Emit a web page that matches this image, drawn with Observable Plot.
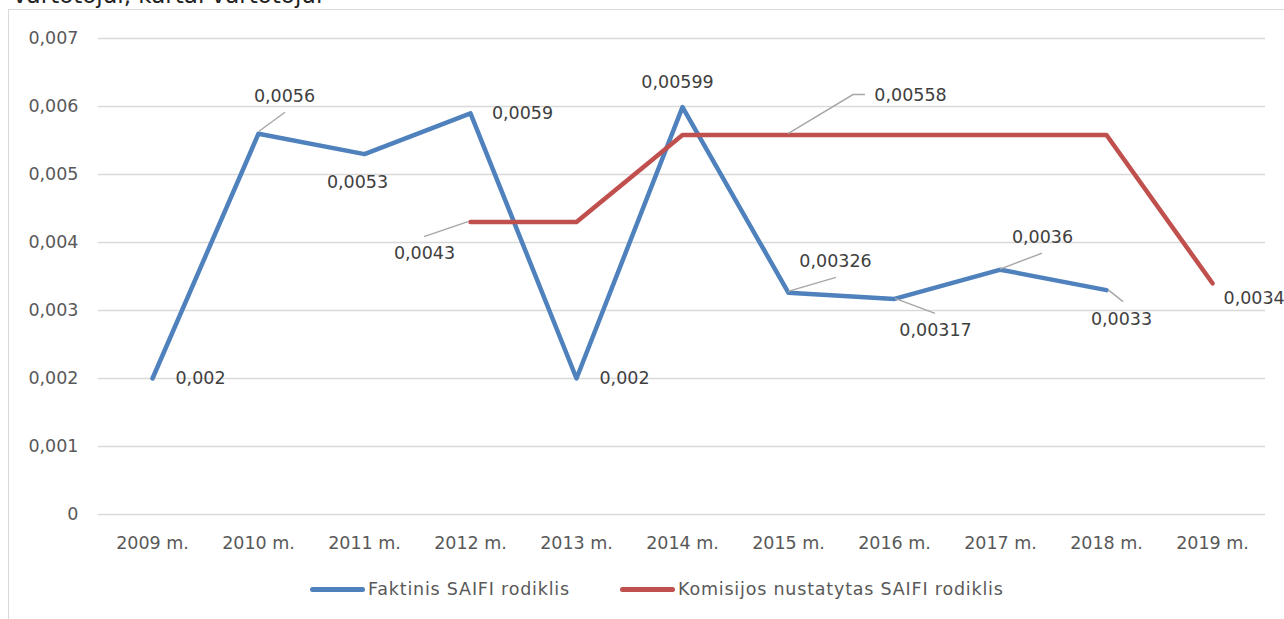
<!DOCTYPE html>
<html><head><meta charset="utf-8">
<script src="https://cdn.jsdelivr.net/npm/d3@7"></script>
<script src="https://cdn.jsdelivr.net/npm/@observablehq/plot@0.6"></script>
<style>
body{margin:0;background:#fff;}
#wrap{position:relative;width:1284px;height:619px;overflow:hidden;font-family:"DejaVu Sans",sans-serif;color:#595959;}
#title{position:absolute;left:13px;top:-16.5px;font-size:23px;line-height:23px;color:#222;white-space:nowrap;}
#frame{position:absolute;left:8px;top:9px;width:1400px;height:700px;border-left:1px solid #d9d9d9;border-top:1px solid #d9d9d9;}
#chart{position:absolute;left:0;top:0;}
.leg{position:absolute;top:578px;height:22px;display:flex;align-items:center;font-size:17.5px;white-space:nowrap;letter-spacing:0.8px;}
.sw{width:55px;height:5px;border-radius:3px;margin-right:3px;}
</style></head>
<body>
<div id="wrap">
  <div id="title">vartotojui, kartai vartotojui</div>
  <div id="frame"></div>
  <div id="chart"></div>
  <div class="leg" style="left:310px"><div class="sw" style="background:#4F81BD"></div><span id="legA"></span></div>
  <div class="leg" style="left:620px"><div class="sw" style="background:#C0504D"></div><span id="legB"></span></div>
</div>
<script>
// ---- data ----
const years = ["2009 m.", "2010 m.", "2011 m.", "2012 m.", "2013 m.", "2014 m.", "2015 m.", "2016 m.", "2017 m.", "2018 m.", "2019 m."];
const faktinis = [0.002, 0.0056, 0.0053, 0.0059, 0.002, 0.00599, 0.00326, 0.00317, 0.0036, 0.0033, null];
const komisijos = [null, null, null, 0.0043, 0.0043, 0.00558, 0.00558, 0.00558, 0.00558, 0.00558, 0.0034];
const seriesNames = ["Faktinis SAIFI rodiklis", "Komisijos nustatytas SAIFI rodiklis"];
const yTicks = [0, 0.001, 0.002, 0.003, 0.004, 0.005, 0.006, 0.007];

document.getElementById("legA").textContent = seriesNames[0];
document.getElementById("legB").textContent = seriesNames[1];

const seriesValues = {F: faktinis, K: komisijos};
const colors = {F: "#4F81BD", K: "#C0504D"};
const rows = s => years.map((y, i) => ({year: y, value: seriesValues[s][i]})).filter(d => d.value != null);

// ---- label layout (pixel offsets, styling only) ----
const labelLayout = [
  {s: "F", i: 0, dx: 48, dy: 0},
  {s: "F", i: 1, dx: 26, dy: -37},
  {s: "F", i: 2, dx: -7, dy: 28},
  {s: "F", i: 3, dx: 52, dy: 0},
  {s: "F", i: 4, dx: 48, dy: 0},
  {s: "F", i: 5, dx: -5, dy: -25},
  {s: "F", i: 6, dx: 47, dy: -31},
  {s: "F", i: 7, dx: 41, dy: 31},
  {s: "F", i: 8, dx: 42, dy: -32},
  {s: "F", i: 9, dx: 15, dy: 29},
  {s: "K", i: 3, dx: -46, dy: 31},
  {s: "K", i: 6, dx: 122, dy: -40},
  {s: "K", i: 10, dx: 11, dy: 15, anchor: "start"}
];
const leaderLayout = [
  {s: "F", i: 1, pts: [[1, -2], [27, -21]]},
  {s: "K", i: 3, pts: [[-2, 0], [-46, 15]]},
  {s: "K", i: 6, pts: [[0, -1], [65, -40], [77, -40]]},
  {s: "F", i: 6, pts: [[0, -1], [48, -15]]},
  {s: "F", i: 7, pts: [[1, 0], [41, 15]]},
  {s: "F", i: 8, pts: [[0, 0], [42, -16]]},
  {s: "F", i: 9, pts: [[2, 0], [17, 12]]}
];
const fmt = v => String(v).replace(".", ",");

function leaders(index, scales) {
  const g = d3.create("svg:g").attr("stroke", "#a6a6a6").attr("stroke-width", 1.4).attr("fill", "none");
  for (const l of leaderLayout) {
    const px = scales.x(years[l.i]), py = scales.y(seriesValues[l.s][l.i]);
    g.append("path").attr("d", d3.line()(l.pts.map(([dx, dy]) => [px + dx, py + dy])));
  }
  return g.node();
}

const chart = Plot.plot({
  width: 1284,
  height: 565,
  marginLeft: 98,
  marginRight: 19,
  marginTop: 38,
  marginBottom: 51,
  style: {fontFamily: "DejaVu Sans, sans-serif", fontSize: "17.5px", color: "#595959", background: "transparent", overflow: "visible"},
  x: {type: "point", domain: years, padding: 0.5, label: null, tickSize: 0, tickPadding: 22},
  y: {domain: [0, 0.007], ticks: yTicks, tickFormat: d => d === 0 ? "0" : d.toFixed(3).replace(".", ","), label: null, tickSize: 0, tickPadding: 20},
  marks: [
    Plot.gridY(yTicks, {stroke: "#d9d9d9", strokeOpacity: 1, strokeWidth: 1.3}),
    Plot.line(rows("F"), {x: "year", y: "value", stroke: colors.F, strokeWidth: 4.5, strokeLinecap: "round", strokeLinejoin: "round"}),
    Plot.line(rows("K"), {x: "year", y: "value", stroke: colors.K, strokeWidth: 4.5, strokeLinecap: "round", strokeLinejoin: "round"}),
    leaders,
    ...labelLayout.map(l => Plot.text([{year: years[l.i], value: seriesValues[l.s][l.i]}], {
      x: "year", y: "value", text: d => fmt(d.value), dx: l.dx, dy: l.dy,
      textAnchor: l.anchor || "middle", fill: "#404040"
    }))
  ]
});
document.getElementById("chart").appendChild(chart);
</script>
</body></html>
